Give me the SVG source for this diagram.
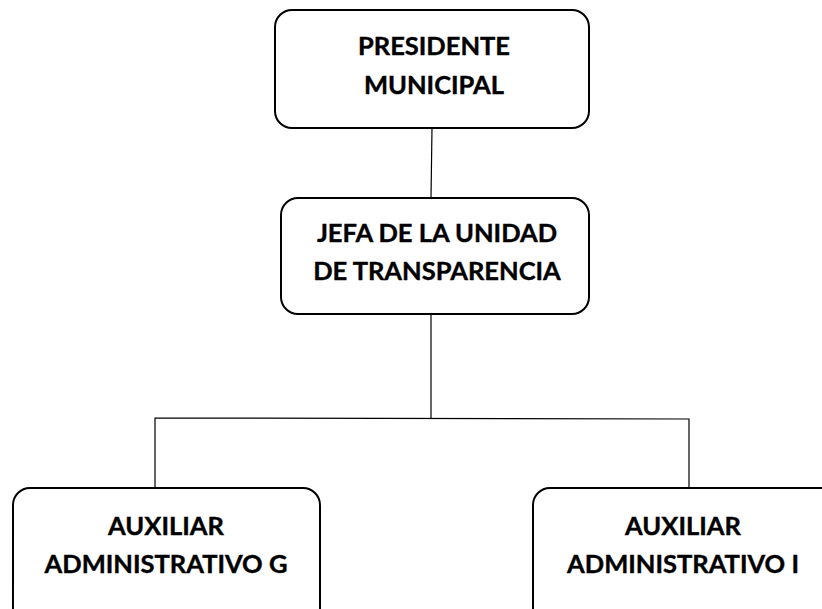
<svg xmlns="http://www.w3.org/2000/svg" width="822" height="609" viewBox="0 0 822 609">
<style>
.box{fill:#fff;stroke:#000;stroke-width:2}
.t{font-family:Lato,"Open Sans","Liberation Sans",sans-serif;font-weight:bold;font-size:25.5px;fill:#000;text-anchor:middle;stroke:#000;stroke-width:0.4}
.ln{stroke:#000;stroke-width:1.2;fill:none}
</style>
<rect width="822" height="609" fill="#fff"/>
<g id="connectors">
<line class="ln" x1="432" y1="128" x2="431" y2="198"/>
<line class="ln" x1="431" y1="314" x2="431" y2="418"/>
<polyline class="ln" points="155,488 155,418 689,419 689,488"/>
</g>
<g id="presidente">
<rect class="box" x="275" y="10" width="314" height="118" rx="17"/>
<text class="t" x="434" y="55">PRESIDENTE</text>
<text class="t" x="434" y="94">MUNICIPAL</text>
</g>
<g id="jefa">
<rect class="box" x="281" y="198" width="308" height="116" rx="17"/>
<text class="t" x="437" y="242">JEFA DE LA UNIDAD</text>
<text class="t" x="437" y="280">DE TRANSPARENCIA</text>
</g>
<g id="auxiliar-g">
<rect class="box" x="13" y="488" width="307" height="140" rx="17"/>
<text class="t" x="166" y="535">AUXILIAR</text>
<text class="t" x="166" y="573">ADMINISTRATIVO G</text>
</g>
<g id="auxiliar-i">
<rect class="box" x="533" y="488" width="307" height="140" rx="17"/>
<text class="t" x="683" y="535">AUXILIAR</text>
<text class="t" x="683" y="573">ADMINISTRATIVO I</text>
</g>
</svg>
